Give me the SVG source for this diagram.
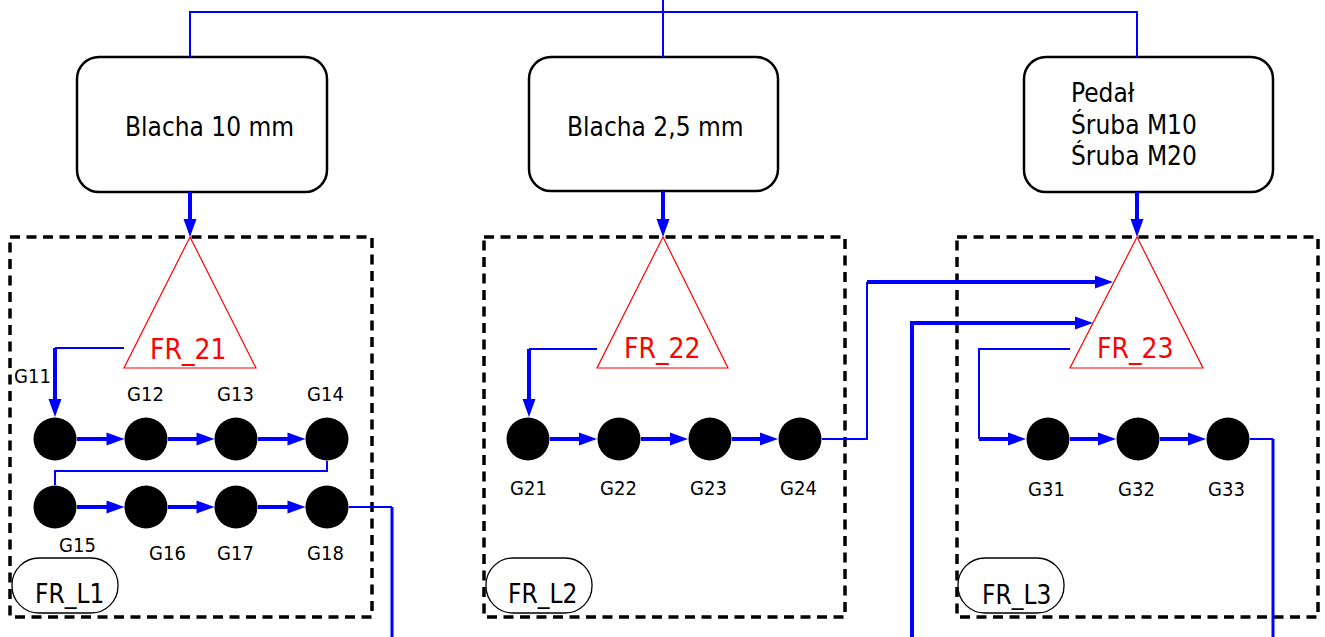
<svg xmlns="http://www.w3.org/2000/svg" width="1325" height="637" viewBox="0 0 1325 637">
<style>
text{font-family:"DejaVu Sans Condensed","DejaVu Sans",sans-serif;fill:#000}
.box{fill:#fff;stroke:#000;stroke-width:2.5}
.frame{fill:none;stroke:#000;stroke-width:3.5;stroke-dasharray:10 6.5}
.tri{fill:#fff;stroke:#ff0000;stroke-width:1.2}
.fr{fill:#ff0000;font-size:28px}
.pill{fill:none;stroke:#000;stroke-width:1.3}
.pl{font-size:26px}
.g{font-size:20px}
.bt{font-size:26px}
.node{fill:#000}
.thin{fill:none;stroke:#0000ff;stroke-width:2}
.mid{fill:none;stroke:#0000ff;stroke-width:3}
.thick{fill:none;stroke:#0000ff;stroke-width:4;marker-end:url(#ah)}
</style>
<defs>
<marker id="ah" markerUnits="userSpaceOnUse" markerWidth="18" markerHeight="13" refX="4" refY="6.5" orient="auto" overflow="visible">
<path d="M0,0 L18,6.5 L0,13 z" fill="#0000ff"/>
</marker>
</defs>

<g id="frame-L1"><rect class="frame" x="10" y="237" width="362" height="380"/></g>
<g id="frame-L2"><rect class="frame" x="484" y="237" width="361" height="380"/></g>
<g id="frame-L3"><rect class="frame" x="957" y="237" width="361" height="380"/></g>

<g id="box1"><rect class="box" x="77" y="57" width="250" height="135" rx="22"/><text class="bt" x="125" y="136">Blacha 10 mm</text></g>
<g id="box2"><rect class="box" x="529" y="57" width="249" height="134" rx="22"/><text class="bt" x="567" y="136">Blacha 2,5 mm</text></g>
<g id="box3"><rect class="box" x="1024" y="57" width="249" height="135" rx="22"/>
<text class="bt" x="1071" y="102">Pedał</text><text class="bt" x="1071" y="134">Śruba M10</text><text class="bt" x="1071" y="165">Śruba M20</text></g>

<g id="FR_21"><polygon class="tri" points="190,237 256,368 124,368"/><text class="fr" x="150" y="359">FR_21</text></g>
<g id="FR_22"><polygon class="tri" points="663,237 728,368 597,368"/><text class="fr" x="624" y="358">FR_22</text></g>
<g id="FR_23"><polygon class="tri" points="1137,237 1203,368 1070,368"/><text class="fr" x="1097" y="358">FR_23</text></g>

<g id="FR_L1"><rect class="pill" x="12" y="558" width="106" height="55" rx="27" ry="27"/><text class="pl" x="35" y="603">FR_L1</text></g>
<g id="FR_L2"><rect class="pill" x="486" y="558" width="106" height="55" rx="27" ry="27"/><text class="pl" x="508" y="603">FR_L2</text></g>
<g id="FR_L3"><rect class="pill" x="958" y="558" width="106" height="55" rx="27" ry="27"/><text class="pl" x="982" y="604">FR_L3</text></g>

<g id="connectors">
<path class="thin" d="M190,57 V12 H1137 V57 M663,0 V57"/>
<path class="thick" d="M190,192 V223"/>
<path class="thick" d="M663,191 V223"/>
<path class="thick" d="M1137,192 V223"/>
<!-- L1 -->
<path class="thin" d="M124,348 H55"/>
<path class="thick" d="M55,348 V403"/>
<path class="thick" d="M77,439 H110.5"/>
<path class="thick" d="M168,439 H200.5"/>
<path class="thick" d="M258,439 H291.5"/>
<path class="thin" d="M327,461 V471 H55 V485"/>
<path class="thick" d="M77,507 H110.5"/>
<path class="thick" d="M168,507 H200.5"/>
<path class="thick" d="M258,507 H291.5"/>
<path class="thin" d="M349,507 H392"/>
<path class="mid" d="M392,507 V637"/>
<!-- L2 -->
<path class="thin" d="M597,349 H529"/>
<path class="thick" d="M529,349 V403"/>
<path class="thick" d="M550,439 H583"/>
<path class="thick" d="M641,439 H674"/>
<path class="thick" d="M732,439 H764"/>
<path class="thin" d="M822,439 H867 V282"/>
<path class="thick" d="M867,282 H1099"/>
<path class="thick" d="M912,637 V323 H1079"/>
<!-- L3 -->
<path class="thin" d="M1070,349 H979 V439"/>
<path class="thick" d="M979,439 H1012"/>
<path class="thick" d="M1070,439 H1102"/>
<path class="thick" d="M1160,439 H1192"/>
<path class="thin" d="M1250,439 H1273"/>
<path class="mid" d="M1273,439 V637"/>
</g>

<g id="G11"><circle class="node" cx="55" cy="439" r="21.5"/><text class="g" x="14" y="383">G11</text></g>
<g id="G12"><circle class="node" cx="146" cy="439" r="21.5"/><text class="g" x="127" y="401">G12</text></g>
<g id="G13"><circle class="node" cx="236" cy="439" r="21.5"/><text class="g" x="217" y="401">G13</text></g>
<g id="G14"><circle class="node" cx="327" cy="439" r="21.5"/><text class="g" x="307" y="401">G14</text></g>
<g id="G15"><circle class="node" cx="55" cy="507" r="21.5"/><text class="g" x="59" y="552">G15</text></g>
<g id="G16"><circle class="node" cx="146" cy="507" r="21.5"/><text class="g" x="149" y="560">G16</text></g>
<g id="G17"><circle class="node" cx="236" cy="507" r="21.5"/><text class="g" x="217" y="560">G17</text></g>
<g id="G18"><circle class="node" cx="327" cy="507" r="21.5"/><text class="g" x="307" y="560">G18</text></g>
<g id="G21"><circle class="node" cx="528" cy="439" r="21.5"/><text class="g" x="510" y="495">G21</text></g>
<g id="G22"><circle class="node" cx="619" cy="439" r="21.5"/><text class="g" x="600" y="495">G22</text></g>
<g id="G23"><circle class="node" cx="710" cy="439" r="21.5"/><text class="g" x="690" y="495">G23</text></g>
<g id="G24"><circle class="node" cx="800" cy="439" r="21.5"/><text class="g" x="780" y="495">G24</text></g>
<g id="G31"><circle class="node" cx="1048" cy="439" r="21.5"/><text class="g" x="1028" y="496">G31</text></g>
<g id="G32"><circle class="node" cx="1138" cy="439" r="21.5"/><text class="g" x="1118" y="496">G32</text></g>
<g id="G33"><circle class="node" cx="1228" cy="439" r="21.5"/><text class="g" x="1208" y="496">G33</text></g>
</svg>
